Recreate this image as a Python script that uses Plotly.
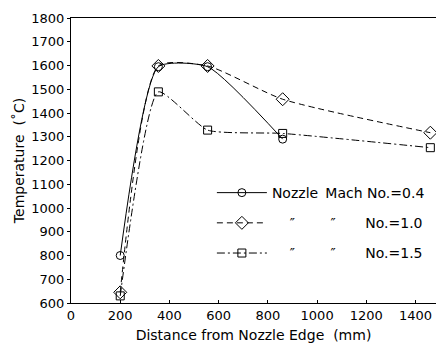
import plotly.graph_objects as go

# Data
dist_04 = [200, 355, 555, 860]
temp_04 = [800, 1595, 1595, 1290]

dist_10 = [200, 355, 555, 860, 1460]
temp_10 = [645, 1598, 1598, 1458, 1317]

dist_15 = [200, 355, 555, 860, 1460]
temp_15 = [630, 1489, 1328, 1314, 1254]

NB = "\u00a0"
TH = "\u2009"
DITTO = "\u2033"
names = [
    "Nozzle" + TH + " Mach No.=0.4",
    NB * 4 + DITTO + NB * 8 + DITTO + NB * 6 + TH + "No.=1.0",
    NB * 4 + DITTO + NB * 8 + DITTO + NB * 6 + TH + "No.=1.5",
]

x_ticks = [0, 200, 400, 600, 800, 1000, 1200, 1400]
y_ticks = list(range(600, 1801, 100))

FONT = "DejaVu Sans"

fig = go.Figure()
fig.add_trace(go.Scatter(
    x=dist_04, y=temp_04, name=names[0], legendgroup="a",
    mode="lines+markers",
    line=dict(color="black", width=1, shape="spline", smoothing=0.55, dash="solid"),
    marker=dict(symbol="circle-open", size=8, color="black", line=dict(width=1)),
))
fig.add_trace(go.Scatter(
    x=dist_10, y=temp_10, name=names[1], legendgroup="b",
    mode="lines+markers",
    line=dict(color="black", width=1, shape="spline", smoothing=0.6, dash="6px,4px"),
    marker=dict(symbol="diamond-open", size=10, color="black", line=dict(width=1)),
))
fig.add_trace(go.Scatter(
    x=dist_15, y=temp_15, name=names[2], legendgroup="c",
    mode="lines+markers",
    line=dict(color="black", width=1, shape="spline", smoothing=0.5, dash="8px,3px,2px,3px"),
    marker=dict(symbol="square-open", size=8, color="black", line=dict(width=1)),
))

fig.update_layout(
    width=436, height=345,
    margin=dict(l=71, r=0, t=18, b=42),
    paper_bgcolor="white", plot_bgcolor="white",
    font=dict(family=FONT, size=13, color="black"),
    showlegend=True,
    legend=dict(
        x=0.386, y=0.442, xanchor="left", yanchor="top",
        bgcolor="rgba(0,0,0,0)", borderwidth=0,
        traceorder="grouped", tracegroupgap=9,
        itemwidth=50, font=dict(family=FONT, size=14),
    ),
    xaxis=dict(
        range=[0, 1483], tickvals=x_ticks, ticktext=[str(v) for v in x_ticks],
        showgrid=False, zeroline=False, showline=True, linecolor="black", linewidth=1,
        mirror=True, ticks="inside", ticklen=3, tickcolor="black", automargin=False,
        tickfont=dict(family=FONT, size=13),
        title=dict(text="Distance from Nozzle Edge\u00a0\u00a0(mm)", font=dict(family=FONT, size=14), standoff=8),
    ),
    yaxis=dict(
        range=[600, 1800], tickvals=y_ticks, ticktext=[str(v) for v in y_ticks],
        showgrid=False, zeroline=False, showline=True, linecolor="black", linewidth=1,
        mirror=False, ticks="outside", ticklen=3, tickcolor="black", automargin=False,
        tickfont=dict(family=FONT, size=13),
        title=dict(text="Temperature\u00a0\u00a0(\u02daC)", font=dict(family=FONT, size=14), standoff=3),
    ),
)

fig.write_html("out.html", config={"displayModeBar": False},
               post_script="document.body.style.margin='0';")
